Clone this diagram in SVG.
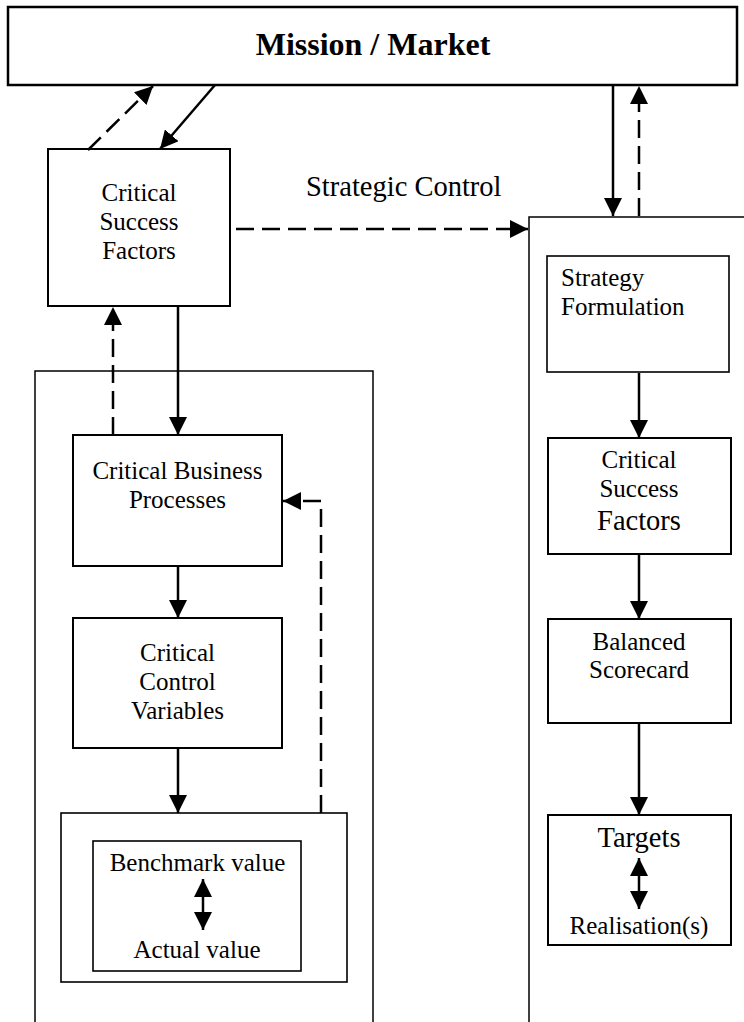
<svg xmlns="http://www.w3.org/2000/svg" width="744" height="1022" viewBox="0 0 744 1022">
<style>
.box{fill:#fff;stroke:#000;stroke-width:2}
.outer{fill:none;stroke:#000;stroke-width:1.5}
.t{font-family:"Liberation Serif","Times New Roman",serif;font-size:25px;fill:#000;text-anchor:middle}
.tl{text-anchor:start}
.big{font-size:28.5px}
.title{font-family:"Liberation Serif","Times New Roman",serif;font-size:32px;font-weight:bold;fill:#000;text-anchor:middle}
.c{fill:none;stroke:#000;stroke-width:2.5}
.d{stroke-dasharray:18 8}
</style>
<defs>
<marker id="ah" viewBox="0 0 18 18" refX="18" refY="9" markerWidth="18" markerHeight="18" markerUnits="userSpaceOnUse" orient="auto-start-reverse">
<path d="M0,0 L18,9 L0,18 z" fill="#000"/>
</marker>
</defs>
<rect width="744" height="1022" fill="#fff"/>
<g id="containers">
<rect id="left-container" class="outer" x="35" y="371" width="338" height="660"/>
<rect id="right-container" class="outer" x="529" y="217" width="220" height="814"/>
</g>
<g id="mission">
<rect class="box" x="8" y="7" width="729" height="78" style="stroke-width:2.5"/>
<text class="title" x="373" y="55">Mission / Market</text>
</g>
<g id="csf-left">
<rect class="box" x="48" y="149" width="182" height="157"/>
<text class="t" x="139" y="201">Critical</text>
<text class="t" x="139" y="230">Success</text>
<text class="t" x="139" y="259">Factors</text>
</g>
<g id="strategic-control-label">
<text class="t big tl" x="306" y="196">Strategic Control</text>
</g>
<g id="cbp">
<rect class="box" x="73" y="435" width="209" height="131"/>
<text class="t" x="177.5" y="479">Critical Business</text>
<text class="t" x="177.5" y="508">Processes</text>
</g>
<g id="ccv">
<rect class="box" x="73" y="618" width="209" height="130"/>
<text class="t" x="177.5" y="661">Critical</text>
<text class="t" x="177.5" y="690">Control</text>
<text class="t" x="177.5" y="719">Variables</text>
</g>
<g id="benchmark-outer">
<rect class="box" x="61" y="813" width="286" height="169" style="stroke-width:1.6"/>
</g>
<g id="benchmark">
<rect class="box" x="93" y="841" width="208" height="130" style="stroke-width:1.6"/>
<text class="t" x="197.5" y="871">Benchmark value</text>
<text class="t" x="197" y="958">Actual value</text>
</g>
<g id="strategy-formulation">
<rect class="box" x="547" y="256" width="182" height="116" style="stroke-width:1.6"/>
<text class="t tl" x="561" y="286">Strategy</text>
<text class="t tl" x="561" y="315">Formulation</text>
</g>
<g id="csf-right">
<rect class="box" x="548" y="438" width="183" height="116"/>
<text class="t" x="639" y="468">Critical</text>
<text class="t" x="639" y="497">Success</text>
<text class="t big" x="639" y="530">Factors</text>
</g>
<g id="balanced-scorecard">
<rect class="box" x="548" y="619" width="183" height="104"/>
<text class="t" x="639" y="650">Balanced</text>
<text class="t" x="639" y="678">Scorecard</text>
</g>
<g id="targets">
<rect class="box" x="548" y="815" width="183" height="130"/>
<text class="t big" x="639" y="847">Targets</text>
<text class="t" x="639" y="934">Realisation(s)</text>
</g>
<g id="connectors">
<line class="c d" x1="88" y1="150" x2="153" y2="86" marker-end="url(#ah)"/>
<line class="c" x1="215" y1="85" x2="160" y2="149" marker-end="url(#ah)"/>
<line class="c" x1="613" y1="85" x2="613" y2="216" marker-end="url(#ah)"/>
<line class="c d" x1="639" y1="216" x2="639" y2="86" marker-end="url(#ah)"/>
<line class="c d" x1="236" y1="229" x2="528" y2="229" marker-end="url(#ah)"/>
<line class="c" x1="178" y1="306" x2="178" y2="435" marker-end="url(#ah)"/>
<line class="c d" x1="113" y1="435" x2="113" y2="307" marker-end="url(#ah)"/>
<line class="c" x1="178" y1="566" x2="178" y2="618" marker-end="url(#ah)"/>
<line class="c" x1="178" y1="748" x2="178" y2="813" marker-end="url(#ah)"/>
<polyline class="c d" points="321,813 321,501 283,501" marker-end="url(#ah)"/>
<line class="c" x1="203" y1="879" x2="203" y2="930" marker-start="url(#ah)" marker-end="url(#ah)"/>
<line class="c" x1="639" y1="373" x2="639" y2="438" marker-end="url(#ah)"/>
<line class="c" x1="639" y1="554" x2="639" y2="619" marker-end="url(#ah)"/>
<line class="c" x1="639" y1="723" x2="639" y2="815" marker-end="url(#ah)"/>
<line class="c" x1="639" y1="858" x2="639" y2="909" marker-start="url(#ah)" marker-end="url(#ah)"/>
</g>
</svg>
